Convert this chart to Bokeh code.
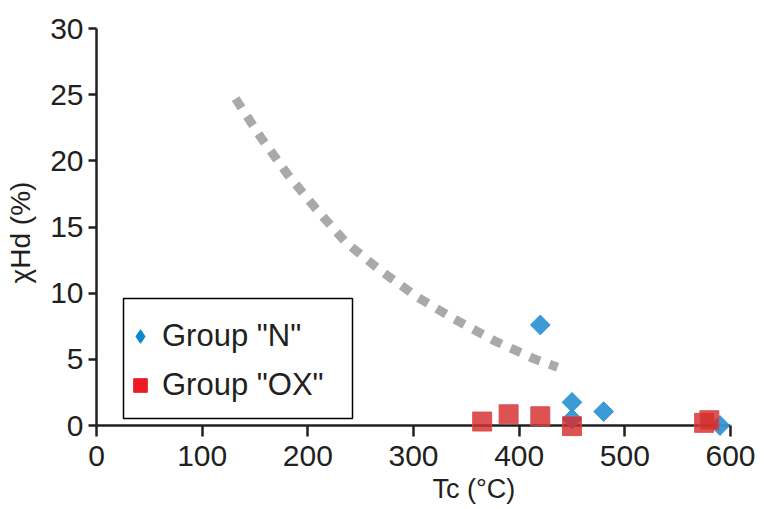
import numpy as np
from bokeh.plotting import figure
from bokeh.models import Range1d, FixedTicker, Legend, LegendItem, BoxAnnotation, Span, Title
from bokeh.embed import file_html
from bokeh.resources import INLINE

# ---- data ----
n_tc = [420, 450, 450, 480, 590]
n_chi = [7.6, 1.75, 0.5, 1.05, 0.0]

ox_tc = [365, 390, 420, 450, 575, 580]
ox_chi = [0.3, 0.85, 0.7, -0.05, 0.2, 0.4]

curve_tc = [131.6, 155.3, 180.6, 207.4, 235.8, 268.9, 303.7, 338.4, 376.2, 414.1, 436.3]
curve_chi = [24.7, 21.8, 19.0, 16.4, 13.85, 11.7, 9.7, 8.06, 6.42, 5.04, 4.41]

x_ticks = [0, 100, 200, 300, 400, 500, 600]
y_ticks = [0, 5, 10, 15, 20, 25, 30]

FONT = "Liberation Sans"
INK = "#231f20"

p = figure(width=764, height=509, output_backend="svg", toolbar_location=None,
           x_range=Range1d(0, 600), y_range=Range1d(-0.83, 30),
           min_border_left=96, min_border_right=34, min_border_top=28, min_border_bottom=73)
p.outline_line_color = None
p.grid.visible = False
p.background_fill_color = "white"

for ax in (p.xaxis[0], p.yaxis[0]):
    ax.major_tick_line_width = 2.5
    ax.major_tick_line_color = INK
    ax.minor_tick_line_color = None
    ax.major_label_text_font = FONT
    ax.major_label_text_font_size = "30px"
    ax.major_label_text_color = INK
    ax.axis_label_text_font = FONT
    ax.axis_label_text_font_style = "normal"
    ax.axis_label_text_color = INK

# x axis: line drawn at y=0 (Span), ticks reach up from the frame edge to it
p.xaxis.ticker = FixedTicker(ticks=x_ticks)
p.xaxis.axis_line_color = None
p.xaxis.major_tick_in = 11
p.xaxis.major_tick_out = 0
p.xaxis.major_label_standoff = 9

p.yaxis.ticker = FixedTicker(ticks=y_ticks)
p.yaxis.axis_line_width = 2.5
p.yaxis.axis_line_color = INK
p.yaxis.major_tick_in = 0
p.yaxis.major_tick_out = 8
p.yaxis.major_label_standoff = 5
p.yaxis.bounds = (0, 30)
p.yaxis.axis_label = "χHd (%)"
p.yaxis.axis_label_text_font_size = "28px"
p.yaxis.axis_label_standoff = 11

p.add_layout(Title(text="Tc (°C)", align="left", offset=336, standoff=6,
                   text_font=FONT, text_font_size="27px", text_font_style="normal",
                   text_color=INK), "below")

p.add_layout(Span(location=0, dimension="width", line_color=INK, line_width=2.5, level="underlay"))

# dotted trend curve
p.line(curve_tc, curve_chi, line_width=9, line_dash="11 10", line_color="#a7a9ac")

# data points
p.scatter(n_tc, n_chi, marker="square", angle=np.pi / 4, size=14,
          fill_color="#3296d2", line_color="#3296d2", fill_alpha=0.95, line_alpha=0.95)
p.scatter(ox_tc, ox_chi, marker="square", size=19,
          fill_color="#d62d2d", fill_alpha=0.82, line_color="#d94a4a", line_alpha=0.9, line_width=1)

# legend box
box = BoxAnnotation(left=27, right=256, top=138, bottom=18,
                    left_units="screen", right_units="screen", top_units="screen", bottom_units="screen",
                    fill_color="white", fill_alpha=1.0, line_color="black", line_alpha=1.0, line_width=1.5)
p.add_layout(box)

# legend glyph renderers (size 0 on the plot; the legend sets its own glyph size)
rn = p.scatter(n_tc, n_chi, marker="diamond", size=0, fill_color="#0f87cf", line_color="#0f87cf")
ro = p.scatter(ox_tc, ox_chi, marker="square", size=0, fill_color="#ed1c24", line_color="#ed1c24")
legend = Legend(items=[LegendItem(label='Group "N"', renderers=[rn]),
                       LegendItem(label='Group "OX"', renderers=[ro])],
                location=(27, 33), padding=0, margin=0, spacing=13,
                glyph_width=34, glyph_height=34, label_height=36, label_standoff=5,
                label_text_font=FONT, label_text_font_size="31px", label_text_color=INK,
                border_line_color=None, background_fill_alpha=0)
p.add_layout(legend)

open("out.html", "w").write(file_html(p, INLINE))
